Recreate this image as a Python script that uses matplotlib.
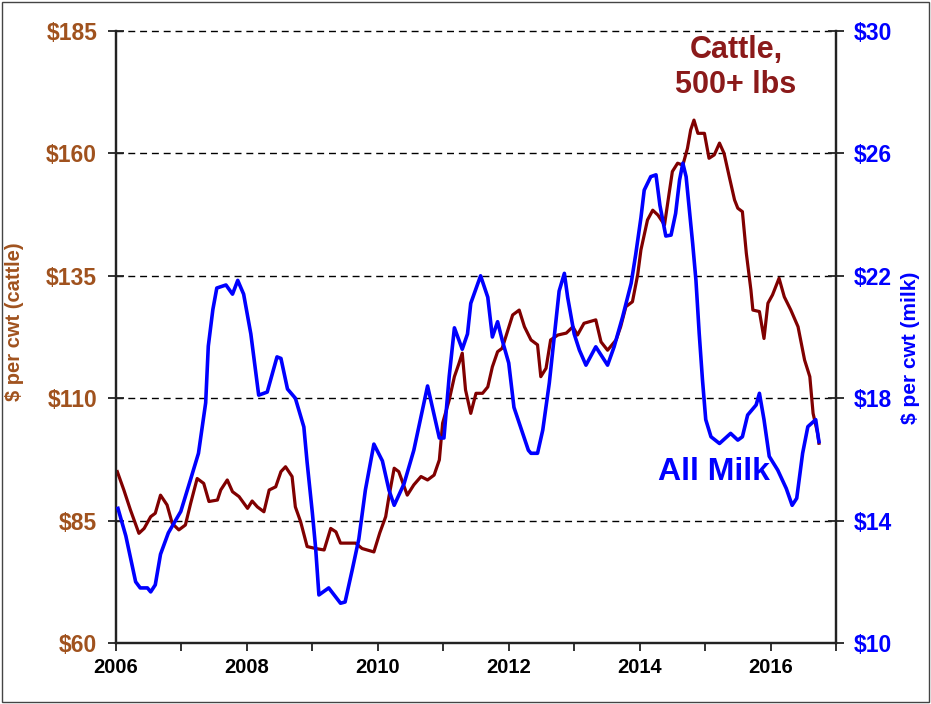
import matplotlib
matplotlib.use("Agg")
import matplotlib.pyplot as plt
from matplotlib.patches import Rectangle

plt.rcParams['font.family'] = ['Liberation Sans', 'DejaVu Sans']
plt.rcParams['font.weight'] = 'bold'

# ---------------- data ----------------
milk_year = [2006.03, 2006.15, 2006.30, 2006.37, 2006.48, 2006.53, 2006.60, 2006.68, 2006.80, 2006.99,
             2007.14, 2007.26, 2007.37, 2007.41, 2007.48, 2007.54, 2007.68, 2007.78, 2007.86, 2007.95,
             2008.06, 2008.18, 2008.31, 2008.46, 2008.52, 2008.62, 2008.74, 2008.87, 2008.92, 2009.00,
             2009.05, 2009.10, 2009.25, 2009.43, 2009.50, 2009.61, 2009.71, 2009.81, 2009.94, 2010.07,
             2010.17, 2010.25, 2010.40, 2010.55, 2010.76, 2010.94, 2011.01, 2011.09, 2011.17, 2011.29,
             2011.37, 2011.42, 2011.57, 2011.68, 2011.75, 2011.83, 2011.90, 2012.00, 2012.08, 2012.19,
             2012.30, 2012.34, 2012.44, 2012.52, 2012.62, 2012.69, 2012.77, 2012.85, 2012.90, 2013.00,
             2013.08, 2013.18, 2013.33, 2013.51, 2013.61, 2013.74, 2013.87, 2013.94, 2014.02, 2014.07,
             2014.17, 2014.25, 2014.31, 2014.40, 2014.48, 2014.55, 2014.61, 2014.66, 2014.71, 2014.81,
             2014.86, 2014.91, 2014.96, 2015.01, 2015.09, 2015.22, 2015.39, 2015.50, 2015.57, 2015.65,
             2015.78, 2015.83, 2015.90, 2015.98, 2016.11, 2016.24, 2016.33, 2016.40, 2016.49, 2016.57,
             2016.69, 2016.72, 2016.74]
milk_price = [14.4, 13.5, 12.0, 11.8, 11.8, 11.67, 11.9, 12.9, 13.6, 14.3,
              15.35, 16.2, 17.85, 19.7, 20.9, 21.6, 21.7, 21.4, 21.85, 21.4,
              20.1, 18.1, 18.2, 19.35, 19.3, 18.3, 18.0, 17.06, 15.9, 14.25,
              13.1, 11.57, 11.8, 11.3, 11.34, 12.4, 13.4, 15.0, 16.5, 15.95,
              15.0, 14.5, 15.2, 16.3, 18.4, 16.7, 16.7, 18.7, 20.3, 19.6,
              20.1, 21.1, 22.0, 21.3, 20.0, 20.5, 19.9, 19.15, 17.7, 17.0,
              16.3, 16.2, 16.2, 16.96, 18.5, 19.9, 21.5, 22.08, 21.3, 20.1,
              19.57, 19.08, 19.68, 19.08, 19.68, 20.66, 21.75, 22.7, 23.9, 24.8,
              25.24, 25.3, 24.3, 23.3, 23.33, 24.04, 25.13, 25.68, 25.24, 23.06,
              21.86, 20.12, 18.6, 17.3, 16.74, 16.52, 16.85, 16.63, 16.74, 17.45,
              17.78, 18.16, 17.3, 16.1, 15.65, 15.05, 14.5, 14.73, 16.2, 17.07,
              17.3, 16.85, 16.58]

cattle_year = [2006.02, 2006.12, 2006.22, 2006.35, 2006.43, 2006.53, 2006.60, 2006.68, 2006.78, 2006.86,
               2006.96, 2007.06, 2007.14, 2007.24, 2007.34, 2007.42, 2007.55, 2007.60, 2007.70, 2007.78,
               2007.88, 2008.01, 2008.08, 2008.16, 2008.26, 2008.34, 2008.44, 2008.52, 2008.59, 2008.69,
               2008.74, 2008.82, 2008.92, 2009.05, 2009.18, 2009.28, 2009.36, 2009.43, 2009.66, 2009.76,
               2009.94, 2010.03, 2010.12, 2010.17, 2010.25, 2010.32, 2010.45, 2010.55, 2010.66, 2010.76,
               2010.86, 2010.94, 2010.99, 2011.09, 2011.17, 2011.24, 2011.29, 2011.34, 2011.42, 2011.50,
               2011.60, 2011.68, 2011.75, 2011.83, 2011.90, 2011.98, 2012.06, 2012.16, 2012.24, 2012.34,
               2012.44, 2012.49, 2012.57, 2012.64, 2012.75, 2012.88, 2012.98, 2013.05, 2013.15, 2013.33,
               2013.41, 2013.51, 2013.64, 2013.71, 2013.79, 2013.89, 2013.97, 2014.02, 2014.12, 2014.20,
               2014.28, 2014.38, 2014.45, 2014.50, 2014.58, 2014.66, 2014.73, 2014.78, 2014.83, 2014.89,
               2014.99, 2015.06, 2015.14, 2015.22, 2015.29, 2015.37, 2015.45, 2015.50, 2015.57, 2015.63,
               2015.70, 2015.73, 2015.83, 2015.90, 2015.96, 2016.03, 2016.13, 2016.21, 2016.31, 2016.42,
               2016.52, 2016.60, 2016.65, 2016.72, 2016.74]
cattle_price = [95.0, 91.25, 87.2, 82.4, 83.4, 85.8, 86.5, 90.2, 88.2, 84.4,
                83.1, 84.1, 88.5, 93.6, 92.6, 88.9, 89.2, 91.25, 93.3, 90.9,
                89.9, 87.5, 89.0, 87.8, 86.8, 91.25, 91.9, 95.0, 96.0, 94.0,
                87.8, 84.8, 79.7, 79.3, 79.0, 83.4, 82.7, 80.4, 80.4, 79.3,
                78.6, 82.5, 85.8, 89.9, 95.7, 95.0, 90.2, 92.3, 94.0, 93.3,
                94.3, 97.4, 104.9, 109.6, 114.4, 117.1, 119.2, 111.7, 106.9, 111.0,
                111.0, 112.3, 116.4, 119.5, 120.2, 123.6, 127.0, 128.0, 124.6, 121.9,
                120.9, 114.4, 116.1, 121.9, 122.9, 123.3, 124.6, 122.9, 125.3, 126.0,
                121.5, 119.8, 121.9, 124.6, 128.7, 129.7, 135.2, 140.3, 146.4, 148.4,
                147.4, 145.4, 151.8, 156.3, 158.0, 157.6, 161.0, 164.8, 166.8, 164.1,
                164.1, 159.0, 159.7, 162.1, 160.0, 155.2, 150.5, 148.8, 148.1, 139.6,
                132.1, 128.0, 127.7, 122.2, 129.4, 131.1, 134.5, 130.7, 128.0, 124.6,
                117.8, 114.4, 106.9, 102.8, 100.8]

cattle_ticks = [60, 85, 110, 135, 160, 185]
cattle_ticklabels = ['$60', '$85', '$110', '$135', '$160', '$185']
milk_ticks = [10, 14, 18, 22, 26, 30]
milk_ticklabels = ['$10', '$14', '$18', '$22', '$26', '$30']
year_ticks = list(range(2006, 2018))
year_labels = ['2006', '', '2008', '', '2010', '', '2012', '', '2014', '', '2016', '']

# ---------------- styling ----------------
BROWN = '#A0521E'
CATTLE = '#800000'
CATTLE_TXT = '#8B1A1A'
BLUE = '#0000FF'

W, H = 931, 704
fig = plt.figure(figsize=(W / 100, H / 100), dpi=100)
ax = fig.add_axes([116 / W, 61 / H, 720 / W, 612 / H])
ax2 = ax.twinx()

ax.set_xlim(2006, 2017)
ax.set_ylim(60, 185)
ax2.set_ylim(10, 30)

# grid
for v in cattle_ticks[1:]:
    ax.axhline(v, color='black', lw=1.0, ls=(0, (5, 3.5)), zorder=1, clip_on=False)

ax.plot(cattle_year, cattle_price, color=CATTLE, lw=2.3, zorder=3)
ax2.plot(milk_year, milk_price, color=BLUE, lw=2.6, zorder=3)

# spines
for a in (ax, ax2):
    a.spines['top'].set_visible(False)
    for s in ('left', 'right', 'bottom'):
        a.spines[s].set_linewidth(1.6)
        a.spines[s].set_color('#222222')

ax.set_yticks(cattle_ticks)
ax.set_yticklabels(cattle_ticklabels, color=BROWN, fontsize=16.5, fontweight='bold')
ax2.set_yticks(milk_ticks)
ax2.set_yticklabels(milk_ticklabels, color=BLUE, fontsize=16.5, fontweight='bold')
ax.set_xticks(year_ticks)
ax.set_xticklabels(year_labels, color='black', fontsize=14.5, fontweight='bold')

ax.tick_params(axis='y', direction='inout', length=11, width=1.3, pad=8, colors='#222222', labelcolor=BROWN)
ax2.tick_params(axis='y', direction='inout', length=11, width=1.3, pad=7, colors='#222222', labelcolor=BLUE)
ax.tick_params(axis='x', direction='out', length=6, width=1.3, pad=5, colors='#222222', labelcolor='black')

fig.text(15 / W, 1 - 322 / H, '$ per cwt (cattle)', rotation=90, color=BROWN,
         fontsize=14.5, fontweight='bold', ha='center', va='center')
fig.text(910 / W, 1 - 348 / H, '$ per cwt (milk)', rotation=90, color=BLUE,
         fontsize=15, fontweight='bold', ha='center', va='center')

ax.text(2015.47, 177.6, 'Cattle,\n500+ lbs', color=CATTLE_TXT, fontsize=22,
        fontweight='bold', ha='center', va='center', linespacing=1.2)
ax.text(2015.14, 95.0, 'All Milk', color=BLUE, fontsize=23,
        fontweight='bold', ha='center', va='center')

fig.patches.append(Rectangle((2 / W, 2 / H), 1 - 4 / W, 1 - 4 / H, transform=fig.transFigure,
                             fill=False, edgecolor='#444444', lw=1.0))

fig.savefig('out.png', dpi=100)
